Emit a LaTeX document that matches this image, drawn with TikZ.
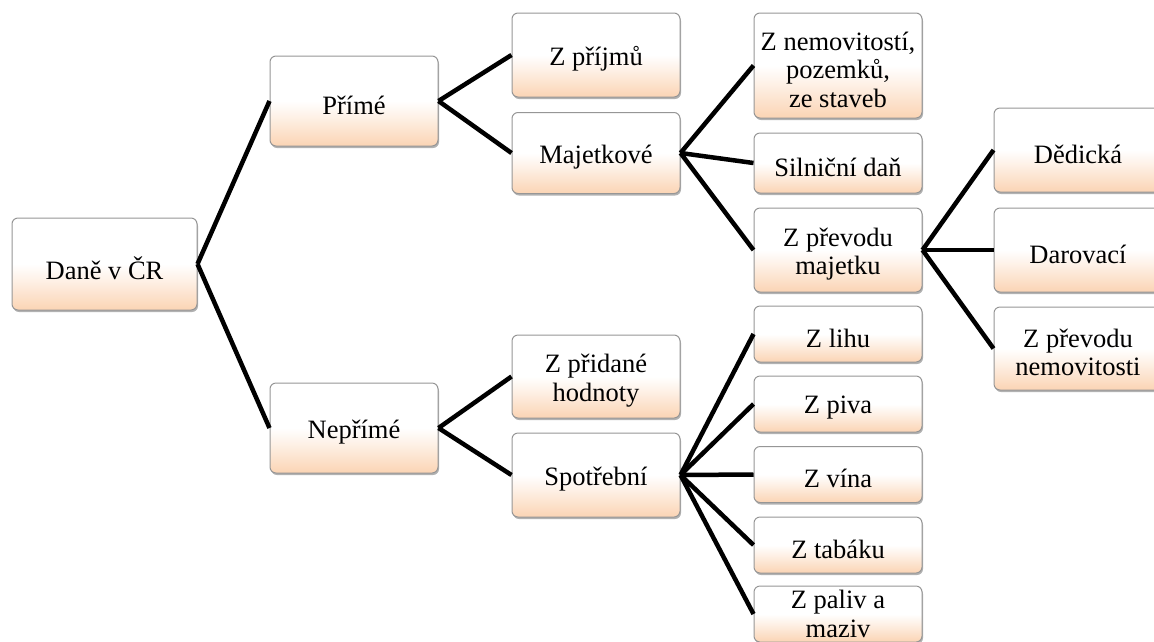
\documentclass[tikz,border=0pt]{standalone}
\usepackage{fontspec}
\setmainfont{Liberation Serif}
\usepackage{tikz}
\usetikzlibrary{shadows}
\definecolor{peach}{RGB}{251,212,180}
\definecolor{rim}{RGB}{150,150,150}
\pgfdeclareverticalshading{fade}{100bp}{color(0bp)=(peach); color(25bp)=(peach);
  color(42bp)=(peach!30!white); color(50bp)=(white); color(100bp)=(white)}
\newcommand\dn[1]{\raisebox{-4pt}[\height][\depth]{#1}}

\begin{document}
\begin{tikzpicture}[x=1pt, y=-1pt,
    every node/.style={font=\fontsize{26.5}{28.5}\selectfont},
    bx/.style={draw=rim, line width=1pt, rounded corners=6pt, align=center,
      minimum width=168pt, minimum height=#1, inner sep=0pt,
      shading=fade, shading angle=0,
      drop shadow={shadow xshift=1pt, shadow yshift=-2pt, opacity=0.3, fill=black}},
    bx/.default=84pt,
    ln/.style={line width=4.5pt, black}
  ]
  \clip (0,0) rectangle (1154,641);
  \node[bx=92pt, minimum width=185pt] (dane) at (104.5,264) {\dn{Daně v ČR}};
  \node[bx=90pt] (prime) at (354,101) {\dn{Přímé}};
  \node[bx=90pt] (neprime) at (354,428) {\dn{Nepřímé}};
  \node[bx] (prijmy) at (596,55) {\dn{Z příjmů}};
  \node[bx=81pt] (majetkove) at (596,153) {\dn{Majetkové}};
  \node[bx=83pt] (pridana) at (596,376.5) {\dn{Z přidané}\\\dn{hodnoty}};
  \node[bx] (spotrebni) at (596,475) {\dn{Spotřební}};
  \node[bx=105pt] (nemovitosti) at (838,65.5) {\dn{Z nemovitostí,}\\\dn{pozemků,}\\\dn{ze staveb}};
  \node[bx=60pt] (silnicni) at (838,163) {\dn{Silniční daň}};
  \node[bx] (prevod) at (838,250) {\dn{Z převodu}\\\dn{majetku}};
  \node[bx=56pt] (lih) at (838,334) {\dn{Z lihu}};
  \node[bx=56pt] (pivo) at (838,404) {\dn{Z piva}};
  \node[bx=56pt] (vino) at (838,474.5) {\dn{Z vína}};
  \node[bx=56pt] (tabak) at (838,545) {\dn{Z tabáku}};
  \node[bx=56pt] (paliva) at (838,614) {Z paliv a\\maziv};
  \node[bx] (dedicka) at (1078,150) {\dn{Dědická}};
  \node[bx] (darovaci) at (1078,250) {\dn{Darovací}};
  \node[bx=83pt] (prevodnem) at (1078,348.5) {\dn{Z převodu}\\\dn{nemovitosti}};

  \draw[ln] (dane.east) -- (prime.west);
  \draw[ln] (dane.east) -- (neprime.west);
  \draw[ln] (prime.east) -- (prijmy.west);
  \draw[ln] (prime.east) -- (majetkove.west);
  \draw[ln] (neprime.east) -- (pridana.west);
  \draw[ln] (neprime.east) -- (spotrebni.west);
  \foreach \t in {nemovitosti, silnicni, prevod}
    \draw[ln] (majetkove.east) -- (\t.west);
  \foreach \t in {lih, pivo, vino, tabak, paliva}
    \draw[ln] (spotrebni.east) -- (\t.west);
  \foreach \t in {dedicka, darovaci, prevodnem}
    \draw[ln] (prevod.east) -- (\t.west);
\end{tikzpicture}
\end{document}
